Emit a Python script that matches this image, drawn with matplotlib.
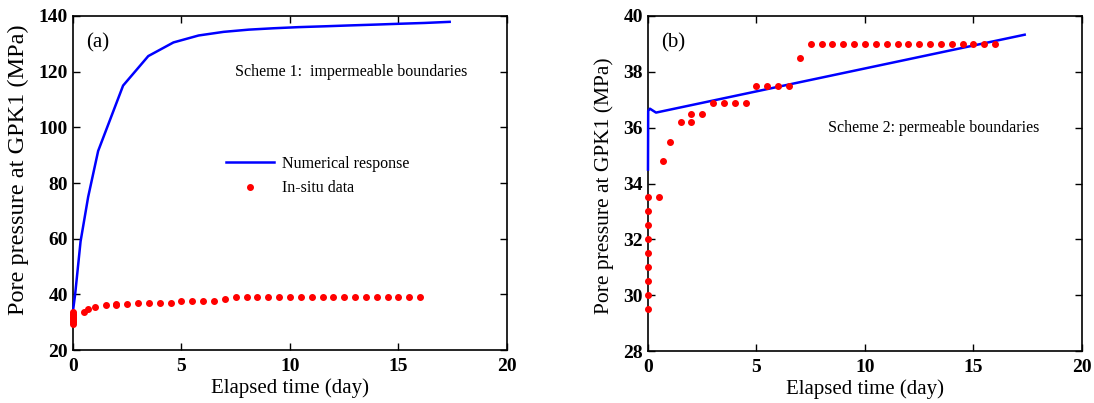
import numpy as np
import matplotlib.pyplot as plt

# in-situ measurements (same for both panels)
t_insitu = [0, 0, 0, 0, 0, 0, 0, 0, 0, 0.5, 0.7, 1.0, 1.5, 2.0, 2.0, 2.5,
            3.0, 3.5, 4.0, 4.5, 5.0, 5.5, 6.0, 6.5, 7.0,
            7.5, 8.0, 8.5, 9.0, 9.5, 10.0, 10.5, 11.0, 11.5, 12.0, 12.5,
            13.0, 13.5, 14.0, 14.5, 15.0, 15.5, 16.0]
p_insitu = [29.5, 30.0, 30.5, 31.0, 31.5, 32.0, 32.5, 33.0, 33.5, 33.5, 34.8, 35.5, 36.2, 36.2, 36.5, 36.5,
            36.9, 36.9, 36.9, 36.9, 37.5, 37.5, 37.5, 37.5, 38.5,
            39.0, 39.0, 39.0, 39.0, 39.0, 39.0, 39.0, 39.0, 39.0, 39.0, 39.0,
            39.0, 39.0, 39.0, 39.0, 39.0, 39.0, 39.0]

# scheme 1: impermeable boundaries
t_num1 = [0, 0.1, 0.35, 0.7, 1.16, 2.31, 3.47, 4.63, 5.79, 6.94, 8.1, 9.26,
          10.4, 11.6, 12.7, 13.9, 15.0, 16.2, 17.36]
p_num1 = [34.0, 40.0, 59.0, 75.0, 91.5, 115.0, 125.6, 130.5, 133.0, 134.3, 135.1, 135.6,
          136.0, 136.3, 136.6, 136.9, 137.2, 137.5, 137.9]

# scheme 2: permeable boundaries
t_num2 = [0, 0.01, 0.09, 0.37, 17.36]
p_num2 = [34.5, 36.6, 36.68, 36.54, 39.33]

plt.rcParams['font.family'] = ['Liberation Serif', 'DejaVu Serif']

fig = plt.figure(figsize=(10.94, 4.03), dpi=100)
ax1 = fig.add_axes([0.0667, 0.1315, 0.3967, 0.8288])
ax2 = fig.add_axes([0.5923, 0.129, 0.3967, 0.8313])

for ax in (ax1, ax2):
    ax.tick_params(direction='in', top=True, right=True, labelsize=14, length=5, width=1)
    ax.tick_params(axis='x', pad=6)
    for s in ax.spines.values():
        s.set_linewidth(1.2)
    ax.set_xlabel('Elapsed time (day)', fontsize=15, labelpad=2)

ax1.set_ylabel('Pore pressure at GPK1 (MPa)', fontsize=17.5)
ax1.yaxis.set_label_coords(-0.101, 0.539)
ax2.set_ylabel('Pore pressure at GPK1 (MPa)', fontsize=15.5)
ax2.yaxis.set_label_coords(-0.078, 0.493)

# panel (a)
ax1.plot(t_num1, p_num1, color='blue', lw=1.8, label='Numerical response', zorder=3, clip_on=False)
ax1.plot(t_insitu, p_insitu, 'o', color='red', ms=4, ls='none', label='In-situ data', zorder=4, clip_on=False)
ax1.set_xlim(0, 20)
ax1.set_ylim(20, 140)
ax1.set_xticks([0, 5, 10, 15, 20])
ax1.set_yticks(np.arange(20, 141, 20))
for lab in ax1.get_xticklabels() + ax1.get_yticklabels():
    lab.set_fontweight('bold')
ax1.text(0.03, 0.92, '(a)', transform=ax1.transAxes, fontsize=15, va='center')
ax1.text(7.45, 120, 'Scheme 1:  impermeable boundaries', fontsize=11.5, va='center')
ax1.legend(loc='upper left', bbox_to_anchor=(0.32, 0.625), frameon=False, fontsize=11.5,
           handlelength=3.0, handletextpad=0.5, labelspacing=0.55, numpoints=1)

# panel (b)
ax2.plot(t_num2, p_num2, color='blue', lw=1.8, zorder=3, clip_on=False)
ax2.plot(t_insitu, p_insitu, 'o', color='red', ms=4, ls='none', zorder=4, clip_on=False)
ax2.set_xlim(0, 20)
ax2.set_ylim(28, 40)
ax2.set_xticks([0, 5, 10, 15, 20])
ax2.set_yticks(np.arange(28, 41, 2))
for lab in ax2.get_xticklabels() + ax2.get_yticklabels():
    lab.set_fontweight('bold')
ax2.text(0.03, 0.92, '(b)', transform=ax2.transAxes, fontsize=15, va='center')
ax2.text(8.3, 36.0, 'Scheme 2: permeable boundaries', fontsize=11.5, va='center')

fig.savefig('out.png', dpi=100)
